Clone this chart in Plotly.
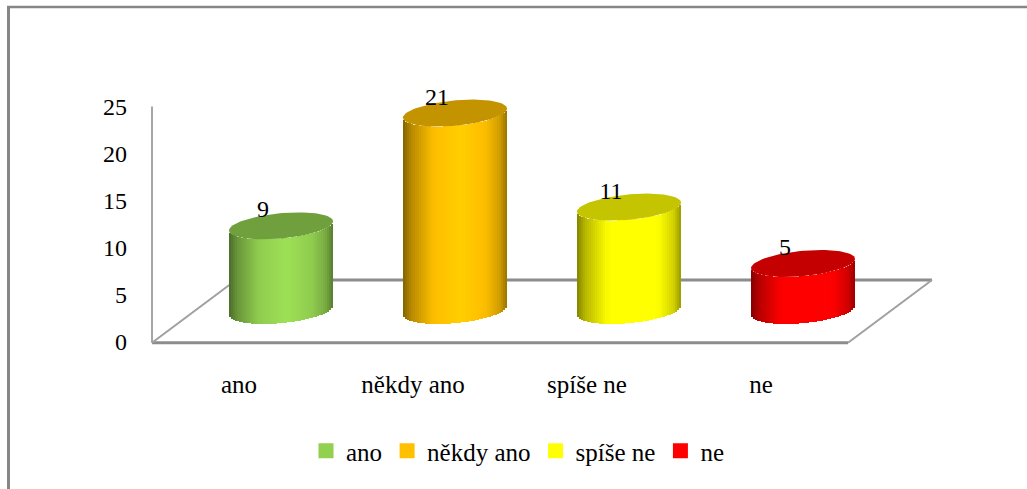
import numpy as np
import plotly.graph_objects as go

categories = ["ano", "někdy ano", "spíše ne", "ne"]
values = [9, 21, 11, 5]
colors = [(146, 208, 80), (255, 192, 0), (255, 255, 0), (255, 0, 0)]
y_ticks = [0, 5, 10, 15, 20, 25]

W, H = 1027, 489
L, R, T, B = 146, 77, 90, 144
X_PX = 174.0   # pixels per category
Y_PX = 9.4     # pixels per unit
Y0_PX = 341.5  # pixel of y = 0
plot_w, plot_h = W - L - R, H - T - B
x_min = -0.5 - (152 - L) / X_PX
x_max = x_min + plot_w / X_PX
y_min = -(H - B - Y0_PX) / Y_PX
y_max = y_min + plot_h / Y_PX

depth_x = 84 / X_PX
floor_y = -1.3 / Y_PX
depth_y = 61.5 / Y_PX
cyl_dx = 42 / X_PX
cyl_dy = 3.3
a_x = 52 / X_PX
b_y = 12.7 / Y_PX
k_y = 4.6 / Y_PX
stripe = 2 / X_PX

GREY = "#8c8c8c"


def shade(rgb, pos):
    m = np.interp(pos, [0, 0.08, 0.28, 0.55, 0.8, 0.93, 1.0],
                  [0.52, 0.72, 0.98, 1.08, 0.98, 0.82, 0.6])
    return "rgb(%d,%d,%d)" % tuple(min(255, int(c * m)) for c in rgb)


fig = go.Figure()

# cylinders: each one is a run of thin bars following the elliptical base
for i, (cat, val, col) in enumerate(zip(categories, values, colors)):
    n = int(round(2 * a_x / stripe))
    offs = (np.arange(n) + 0.5) * stripe - a_x
    c = offs / a_x
    curve = k_y * c - b_y * np.sqrt(1 - c ** 2)
    base = cyl_dy + curve
    fig.add_trace(go.Bar(
        x=i + cyl_dx + offs, y=np.full(n, float(val)), base=base,
        width=np.full(n, stripe * 1.02),
        marker=dict(color=[shade(col, (p + 1) / 2) for p in c], line=dict(width=0)),
        showlegend=False, hoverinfo="skip"))

# elliptical tops
for i, (val, col) in enumerate(zip(values, colors)):
    t = np.linspace(0, 2 * np.pi, 90)
    fig.add_trace(go.Scatter(
        x=i + cyl_dx + a_x * np.cos(t),
        y=val + cyl_dy + k_y * np.cos(t) + b_y * np.sin(t),
        mode="lines", line=dict(width=0), fill="toself",
        fillcolor="rgb(%d,%d,%d)" % tuple(int(v * 0.77) for v in col),
        showlegend=False, hoverinfo="skip"))

# data labels
fig.add_trace(go.Scatter(
    x=[i + cyl_dx - 18 / X_PX for i in range(len(values))],
    y=[v + 4.85 for v in values],
    mode="text", text=[str(v) for v in values],
    textposition="middle center",
    textfont=dict(family="Liberation Serif", size=24, color="black"),
    cliponaxis=False, showlegend=False, hoverinfo="skip"))

# legend entries
for cat, col in zip(categories, colors):
    fig.add_trace(go.Bar(
        x=[None], y=[None], name=cat,
        marker=dict(color="rgb(%d,%d,%d)" % col,
                    line=dict(color="rgb(%d,%d,%d)" % col, width=3))))

# floor and wall lines, drawn behind the cylinders
n_cat = len(categories)
front_l, front_r = -0.5, n_cat - 0.5
shapes = [
    dict(x0=front_l, x1=front_l, y0=floor_y, y1=y_ticks[-1], line=dict(color="#a6a6a6", width=2)),
    dict(x0=front_l, x1=front_r, y0=floor_y, y1=floor_y, line=dict(color=GREY, width=3)),
    dict(x0=front_l + depth_x, x1=front_r + depth_x, y0=depth_y, y1=depth_y, line=dict(color=GREY, width=3)),
    dict(x0=front_l, x1=front_l + depth_x, y0=floor_y, y1=depth_y, line=dict(color="#a0a0a0", width=2)),
    dict(x0=front_r, x1=front_r + depth_x, y0=floor_y, y1=depth_y, line=dict(color="#a0a0a0", width=2)),
]
for s in shapes:
    s.update(type="line", xref="x", yref="y", layer="below")

# outer frame (top and left only)
def px_x(p):
    return (p - L) / plot_w


def px_y(p):
    return (H - B - p) / plot_h


shapes += [
    dict(type="line", xref="paper", yref="paper", x0=px_x(8.5), x1=px_x(8.5),
         y0=px_y(6), y1=px_y(H), line=dict(color="#868686", width=3)),
    dict(type="line", xref="paper", yref="paper", x0=px_x(7), x1=px_x(W),
         y0=px_y(7), y1=px_y(7), line=dict(color="#868686", width=2.5)),
]

fig.update_layout(
    width=W, height=H,
    margin=dict(l=L, r=R, t=T, b=B, autoexpand=False),
    paper_bgcolor="white", plot_bgcolor="white",
    barmode="overlay", bargap=0,
    font=dict(family="Liberation Serif", size=25, color="black"),
    shapes=shapes,
    showlegend=True,
    legend=dict(orientation="h", x=px_x(518), xanchor="center",
                y=px_y(451), yanchor="middle",
                font=dict(family="Liberation Serif", size=25, color="black"),
                bgcolor="rgba(0,0,0,0)"),
    xaxis=dict(range=[x_min, x_max], tickmode="array", tickvals=list(range(n_cat)),
               ticktext=categories, showgrid=False, zeroline=False, showline=False,
               ticks="", ticklabelstandoff=22, automargin=False,
               tickfont=dict(family="Liberation Serif", size=25, color="black")),
    yaxis=dict(range=[y_min, y_max], tickmode="array", tickvals=y_ticks,
               showgrid=False, zeroline=False, showline=False,
               ticks="", ticklabelstandoff=18, automargin=False,
               tickfont=dict(family="Liberation Serif", size=24, color="black")),
)

fig.write_html("out.html", config=dict(displayModeBar=False),
               post_script="document.body.style.margin='0';document.body.style.overflow='hidden';")
